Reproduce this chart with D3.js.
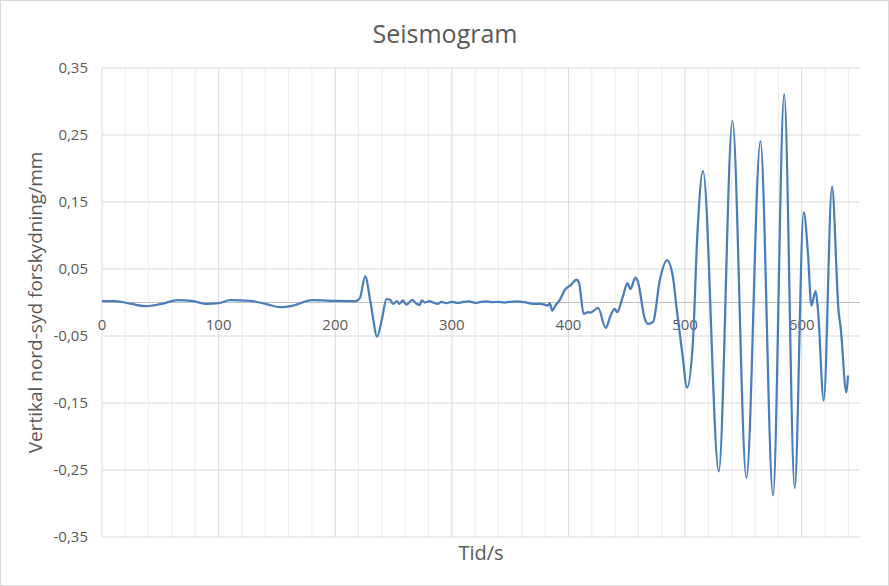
<!DOCTYPE html>
<html>
<head>
<meta charset="utf-8">
<script src="https://cdn.jsdelivr.net/npm/d3@7"></script>
<style>
  body { margin: 0; background: #fff; }
  svg { display: block; font-family: 'Open Sans', sans-serif; }
</style>
</head>
<body>
<svg width="889" height="586"></svg>
<script>
// time (s) and vertical north-south displacement (mm)
const time = [0, 11, 25, 38, 50, 65, 77, 90, 100, 110, 127, 140, 153, 164, 180, 200, 217, 221, 225.7, 230.3, 236, 240,
  244, 247, 249.6, 253, 255, 258, 261, 264, 266, 269, 272.6, 274, 277, 281, 284, 288, 291, 295.4, 300, 305, 310, 315,
  320, 325, 330, 335, 340, 345, 350, 356, 362, 369.7, 376, 382.6, 384, 386, 389, 392.6, 397, 402, 406.9, 409, 413,
  416.9, 418.9, 425.4, 432, 436, 439.7, 441.7, 446.8, 450.6, 453.1, 457.4, 459.7, 465.4, 468.3, 472.6, 478.3, 484.5,
  489.6, 492.6, 497.7, 501.7, 506.8, 510.3, 515.4, 528.9, 540.6, 552.6, 564.6, 575.4, 585, 594, 601.7, 605.4, 608.3,
  612, 614, 618.9, 626, 631.7, 633.4, 638.3, 639.7];
const displacement = [0.002, 0.002, -0.002, -0.0055, -0.0025, 0.0035, 0.0025, -0.002, -0.001, 0.0035, 0.0025, -0.002,
  -0.007, -0.0045, 0.0035, 0.0025, 0.002, 0.006, 0.039, 0.0, -0.051, -0.025,
  0.005, 0.004, -0.002, 0.002, -0.002, 0.003, -0.003, 0.001, 0.004, -0.001, -0.004, 0.003, 0.0, 0.002, 0.0, -0.002,
  0.001, -0.001, 0.001, -0.0005, 0.001, 0.0015, -0.0005, 0.001, 0.0015, 0.0005, 0.001, 0.0, 0.001, 0.0015, 0.0005,
  -0.002, -0.002, -0.0045, -0.001, -0.012, -0.004, 0.004, 0.019, 0.026, 0.034, 0.030, -0.017,
  -0.0145, -0.015, -0.008, -0.038, -0.02, -0.0095, -0.0145, 0.010, 0.029, 0.020, 0.037, 0.030, -0.024, -0.032, -0.029,
  0.033, 0.063, 0.038, -0.007, -0.077, -0.127, -0.057, 0.093, 0.196, -0.252, 0.271, -0.262, 0.241, -0.288, 0.311,
  -0.277, 0.135, 0.073, -0.0045, 0.017, -0.012, -0.146, 0.173, -0.0145, -0.037, -0.134, -0.109];

const xTicks = [0, 100, 200, 300, 400, 500, 600];
const xMinorTicks = d3.range(0, 651, 20);
const yTicks = [-0.35, -0.25, -0.15, -0.05, 0.05, 0.15, 0.25, 0.35];

const data = time.map((t, i) => ({ t: t, v: displacement[i] }));

const svg = d3.select('svg');
const textColor = '#595959';

const x = d3.scaleLinear().domain([0, 650]).range([102, 860]);
const y = d3.scaleLinear().domain([-0.35, 0.35]).range([537, 68]);

// chart border
svg.append('rect')
  .attr('x', 0.5).attr('y', 0.5)
  .attr('width', 888).attr('height', 585)
  .attr('fill', '#fff')
  .attr('stroke', '#d9d9d9');

// minor vertical gridlines
svg.append('g')
  .selectAll('line')
  .data(xMinorTicks.filter(d => d % 100 !== 0))
  .enter().append('line')
  .attr('x1', d => x(d)).attr('x2', d => x(d))
  .attr('y1', y(0.35)).attr('y2', y(-0.35))
  .attr('stroke', '#ededed');

// major gridlines
svg.append('g')
  .selectAll('line')
  .data(xTicks)
  .enter().append('line')
  .attr('x1', d => x(d)).attr('x2', d => x(d))
  .attr('y1', y(0.35)).attr('y2', y(-0.35))
  .attr('stroke', '#d9d9d9');

svg.append('g')
  .selectAll('line')
  .data(yTicks)
  .enter().append('line')
  .attr('x1', x(0)).attr('x2', x(650))
  .attr('y1', d => y(d)).attr('y2', d => y(d))
  .attr('stroke', '#d9d9d9');

// zero axis
svg.append('line')
  .attr('x1', x(0)).attr('x2', x(650))
  .attr('y1', y(0)).attr('y2', y(0))
  .attr('stroke', '#bfbfbf');

const fmt = d => d3.format('.2f')(d).replace('.', ',').replace('−', '-');

svg.append('g')
  .selectAll('text')
  .data(yTicks)
  .enter().append('text')
  .attr('x', 88)
  .attr('y', d => y(d) + 5)
  .attr('text-anchor', 'end')
  .attr('font-size', 15)
  .attr('fill', textColor)
  .text(fmt);

svg.append('g')
  .selectAll('text')
  .data(xTicks)
  .enter().append('text')
  .attr('x', d => x(d))
  .attr('y', y(0) + 27)
  .attr('text-anchor', 'middle')
  .attr('font-size', 15)
  .attr('fill', textColor)
  .text(d => d);

// the trace
const line = d3.line()
  .x(d => x(d.t))
  .y(d => y(d.v))
  .curve(d3.curveMonotoneX);

svg.append('path')
  .datum(data)
  .attr('d', line)
  .attr('fill', 'none')
  .attr('stroke', '#4a7ebb')
  .attr('stroke-width', 2.25)
  .attr('stroke-linejoin', 'round');

// titles
svg.append('text')
  .attr('x', 445).attr('y', 43)
  .attr('text-anchor', 'middle')
  .attr('font-size', 25)
  .attr('fill', textColor)
  .text('Seismogram');

svg.append('text')
  .attr('x', (x(0) + x(650)) / 2).attr('y', 560)
  .attr('text-anchor', 'middle')
  .attr('font-size', 20)
  .attr('fill', textColor)
  .text('Tid/s');

svg.append('text')
  .attr('transform', `translate(42, ${(y(0.35) + y(-0.35)) / 2}) rotate(-90)`)
  .attr('text-anchor', 'middle')
  .attr('font-size', 19)
  .attr('fill', textColor)
  .text('Vertikal nord-syd forskydning/mm');
</script>
</body>
</html>
